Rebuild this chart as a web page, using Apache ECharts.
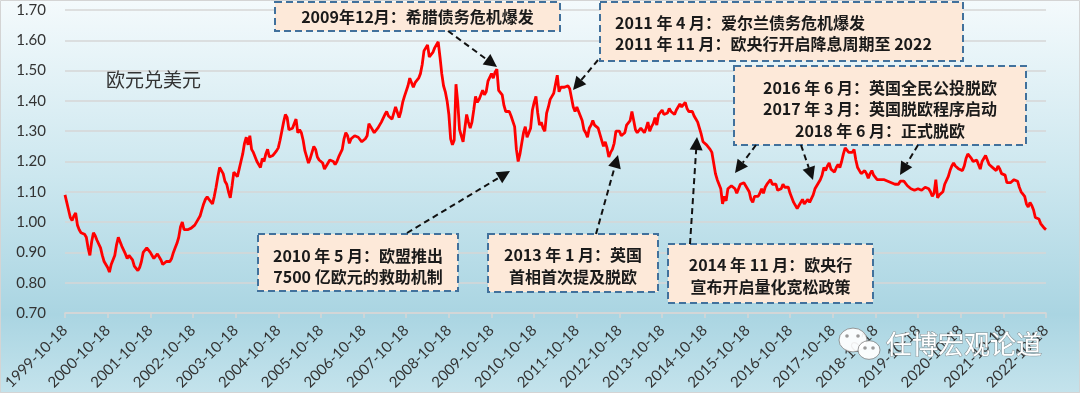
<!DOCTYPE html>
<html><head><meta charset="utf-8">
<script src="https://cdn.jsdelivr.net/npm/echarts@6/dist/echarts.min.js"></script>
<style>html,body{margin:0;padding:0;}#c{width:1080px;height:393px;}</style>
</head><body><div id="c"></div>
<script>
// EUR/USD, sampled on the 18th and 3rd of each month (1999-10-18 .. 2022-10-18)
const rate1999to2004 = [
1.090,1.065,1.040,1.015,1.005,1.020,1.030,0.990,0.975,0.965,0.970,0.960,0.950,0.915,0.890,0.935,0.965,0.955,0.940,0.935,0.915,0.890,0.870,0.875,
0.850,0.835,0.860,0.855,0.890,0.925,0.950,0.935,0.920,0.920,0.895,0.880,0.890,0.895,0.875,0.855,0.850,0.840,0.850,0.870,0.900,0.905,0.915,0.910,
0.900,0.890,0.880,0.885,0.895,0.890,0.875,0.860,0.865,0.870,0.875,0.870,0.880,0.900,0.915,0.930,0.950,0.985,1.000,0.975,0.980,0.975,0.970,0.980,
0.980,0.990,1.000,0.995,1.020,1.040,1.060,1.075,1.083,1.075,1.080,1.060,1.085,1.115,1.150,1.180,1.175,1.160,1.135,1.125,1.100,1.080,1.120,1.165,
1.165,1.150,1.175,1.200,1.225,1.260,1.280,1.255,1.285,1.240,1.230,1.235,1.200,1.195,1.180,1.210,1.200,1.225,1.240,1.215,1.210,1.220,1.215,1.235];
const rate2004to2009 = [
1.245,1.270,1.300,1.330,1.355,1.345,1.305,1.300,1.310,1.325,1.340,1.295,1.305,1.295,1.270,1.235,1.215,1.195,1.210,1.230,1.250,1.240,1.215,1.205,
1.200,1.195,1.175,1.180,1.195,1.205,1.210,1.200,1.190,1.200,1.215,1.220,1.240,1.275,1.295,1.285,1.260,1.275,1.270,1.285,1.285,1.280,1.275,1.265,
1.260,1.275,1.285,1.325,1.315,1.310,1.295,1.300,1.310,1.320,1.330,1.335,1.355,1.365,1.350,1.345,1.340,1.360,1.380,1.375,1.345,1.365,1.395,1.415,
1.420,1.450,1.475,1.470,1.445,1.460,1.465,1.475,1.490,1.520,1.565,1.560,1.585,1.545,1.550,1.560,1.575,1.580,1.595,1.545,1.490,1.450,1.430,1.400,
1.355,1.275,1.255,1.270,1.455,1.395,1.305,1.285,1.265,1.260,1.355,1.330,1.310,1.330,1.370,1.415,1.395,1.405,1.410,1.435,1.420,1.430,1.465,1.460];
const rate2009to2014 = [
1.490,1.475,1.495,1.505,1.435,1.435,1.420,1.385,1.365,1.360,1.365,1.350,1.345,1.315,1.240,1.200,1.225,1.260,1.295,1.315,1.280,1.285,1.310,1.370,
1.395,1.415,1.360,1.320,1.330,1.310,1.300,1.360,1.380,1.405,1.415,1.425,1.455,1.485,1.430,1.445,1.450,1.445,1.440,1.450,1.440,1.445,1.380,1.365,
1.380,1.375,1.350,1.335,1.305,1.295,1.280,1.310,1.320,1.335,1.320,1.315,1.310,1.310,1.270,1.250,1.265,1.245,1.215,1.230,1.240,1.260,1.300,1.295,
1.300,1.285,1.280,1.295,1.320,1.315,1.335,1.365,1.335,1.305,1.295,1.290,1.310,1.315,1.295,1.310,1.330,1.300,1.315,1.325,1.345,1.320,1.355,1.360,
1.370,1.355,1.350,1.360,1.375,1.365,1.360,1.355,1.370,1.380,1.390,1.380,1.385,1.395,1.375,1.365,1.360,1.365,1.350,1.340,1.330,1.310,1.290,1.265];
const rate2014to2019 = [
1.270,1.255,1.250,1.240,1.230,1.195,1.160,1.140,1.135,1.110,1.060,1.085,1.070,1.110,1.115,1.120,1.125,1.110,1.095,1.100,1.125,1.120,1.130,1.120,
1.125,1.100,1.075,1.065,1.085,1.080,1.085,1.095,1.110,1.095,1.115,1.125,1.130,1.140,1.125,1.120,1.125,1.105,1.100,1.110,1.125,1.115,1.115,1.115,
1.095,1.095,1.065,1.060,1.045,1.045,1.065,1.075,1.060,1.055,1.075,1.065,1.065,1.090,1.110,1.120,1.120,1.140,1.155,1.180,1.170,1.185,1.195,1.175,
1.175,1.165,1.180,1.190,1.180,1.200,1.225,1.245,1.240,1.230,1.235,1.230,1.240,1.205,1.180,1.170,1.160,1.165,1.170,1.160,1.145,1.160,1.170,1.155,
1.150,1.140,1.135,1.140,1.145,1.140,1.145,1.135,1.135,1.130,1.135,1.125,1.130,1.125,1.135,1.130,1.135,1.130,1.120,1.115,1.110,1.110,1.105,1.100];
const rate2019to2022 = [
1.110,1.115,1.105,1.110,1.115,1.115,1.110,1.100,1.085,1.095,1.140,1.080,1.090,1.095,1.100,1.125,1.130,1.150,1.170,1.185,1.195,1.185,1.180,1.175,
1.175,1.170,1.185,1.210,1.225,1.230,1.210,1.200,1.205,1.205,1.190,1.175,1.200,1.205,1.220,1.220,1.190,1.185,1.180,1.185,1.170,1.185,1.175,1.160,
1.160,1.155,1.130,1.130,1.130,1.135,1.140,1.135,1.135,1.115,1.100,1.100,1.085,1.060,1.050,1.065,1.055,1.040,1.015,1.020,1.010,0.995,1.000,0.980,0.975];

const eurusd = [].concat(rate1999to2004, rate2004to2009, rate2009to2014, rate2014to2019, rate2019to2022);

// categories: YYYY-MM-18 and YYYY-MM-03 alternating
function pad(n){return (n<10?'0':'')+n;}
const dates = [];
(function(){ let y=1999,m=10;
  while(true){ dates.push(y+'-'+pad(m)+'-18'); if(y===2022&&m===10)break;
    m++; if(m>12){m=1;y++;} dates.push(y+'-'+pad(m)+'-03'); } })();
const tickLabelSuffix = '-10-18';
const yTicks = {min:0.7, max:1.7, interval:0.1};
const chartTitle = '欧元兑美元';

const boxes = [
  {x:275,y:2,w:285,h:29, align:'center', lines:['2009年12月：希腊债务危机爆发'], ly:[17]},
  {x:600,y:2,w:363,h:59, align:'left', tx:615, lines:['2011 年 4 月：爱尔兰债务危机爆发','2011 年 11 月：欧央行开启降息周期至 2022'], ly:[23,44]},
  {x:734,y:66,w:292,h:79, align:'center', lines:['2016 年 6 月：英国全民公投脱欧','2017 年 3 月：英国脱欧程序启动','2018 年 6 月：正式脱欧'], ly:[88,109,131]},
  {x:258,y:234,w:200,h:57, align:'center', lines:['2010 年 5 月：欧盟推出','7500 亿欧元的救助机制'], ly:[256,277]},
  {x:488,y:234,w:170,h:58, align:'center', lines:['2013 年 1 月：英国','首相首次提及脱欧'], ly:[255,277]},
  {x:668,y:244,w:205,h:59, align:'center', lines:['2014 年 11 月：欧央行','宣布开启量化宽松政策'], ly:[265,287]}
];
const arrows = [
  [448,31,497,67],[598,60,573,90],[756,145,735,173],[801,145,813,180],[918,145,900,175],
  [407,233,510,171],[596,234,618,155],[690,244,697,137]
];

const cjk = '"Noto Sans CJK SC"';
const els = [];
els.push({type:'rect', shape:{x:0.5,y:0.5,width:1079,height:392}, style:{fill:'none',stroke:'#d4d4d4',lineWidth:1}, z:1, silent:true});
els.push({type:'text', style:{text:chartTitle, x:106, y:80, fill:'#333', fontSize:19, fontFamily:cjk, textAlign:'left', textVerticalAlign:'middle', align:'left', verticalAlign:'middle'}, z:50});
boxes.forEach(b=>{
  els.push({type:'rect', shape:{x:b.x,y:b.y,width:b.w,height:b.h}, style:{fill:'#fde9d9',stroke:'#41719c',lineWidth:2,lineDash:[7,4]}, z:50});
  b.lines.forEach((t,i)=>{
    const x = b.align==='left'? b.tx : b.x+b.w/2;
    els.push({type:'text', style:{text:t, x:x, y:b.ly[i], fill:'#1a1a1a', fontSize:16, fontWeight:'bold', fontFamily:cjk,
      textAlign:b.align, textVerticalAlign:'middle', align:b.align, verticalAlign:'middle'}, z:51});
  });
});
arrows.forEach(a=>{
  const [x1,y1,x2,y2]=a; const dx=x2-x1, dy=y2-y1, L=Math.sqrt(dx*dx+dy*dy); const ux=dx/L, uy=dy/L;
  const hl=13, hw=6.5; const bx=x2-ux*hl, by=y2-uy*hl;
  els.push({type:'line', shape:{x1:x1,y1:y1,x2:bx,y2:by}, style:{stroke:'#111',lineWidth:2,lineDash:[6,4]}, z:52});
  els.push({type:'polygon', shape:{points:[[x2,y2],[bx-uy*hw,by+ux*hw],[bx+uy*hw,by-ux*hw]]}, style:{fill:'#111'}, z:52});
});
// watermark
const wmFill='rgba(255,255,255,0.92)', wmStroke='rgba(120,120,120,0.8)';
els.push({type:'circle', shape:{cx:853,cy:340,r:14}, scaleY:0.85, originX:853, originY:340, style:{fill:wmFill,stroke:wmStroke,lineWidth:1}, z:60});
els.push({type:'circle', shape:{cx:869,cy:350,r:11}, scaleY:0.85, originX:869, originY:350, style:{fill:wmFill,stroke:wmStroke,lineWidth:1}, z:61});
[[847,336,62],[858,336,62],[865,348,63],[873,348,63]].forEach(p=>els.push({type:'circle',shape:{cx:p[0],cy:p[1],r:1.8},style:{fill:'#9a9a9a'},z:p[2]}));
els.push({type:'text', style:{text:'任博宏观论道', x:886, y:344, fill:'#ffffff', stroke:'rgba(110,110,110,0.7)', lineWidth:1, fontSize:26, fontFamily:cjk,
  textAlign:'left', textVerticalAlign:'middle', align:'left', verticalAlign:'middle'}, z:60});

const isYearTick = (i, v) => String(v).endsWith(tickLabelSuffix);
const chart = echarts.init(document.getElementById('c'));
chart.setOption({
  animation:false,
  backgroundColor:{type:'linear',x:0,y:0,x2:0,y2:1,colorStops:[
    {offset:0,color:'#f4fafc'},{offset:0.45,color:'#cce7ef'},{offset:0.8,color:'#aad5e2'},{offset:1,color:'#c4e3ec'}]},
  grid:{left:65,right:34,top:10,bottom:80},
  xAxis:{type:'category', data:dates, boundaryGap:false,
    axisLine:{show:true,lineStyle:{color:'#d6d6d6',width:1.5}},
    axisTick:{show:true,interval:isYearTick,length:5,lineStyle:{color:'#d6d6d6',width:1.5}},
    axisLabel:{interval:isYearTick, rotate:45, margin:15, color:'#333', fontSize:15, fontFamily:'Lato'},
    splitLine:{show:false}},
  yAxis:{type:'value', min:yTicks.min, max:yTicks.max, interval:yTicks.interval,
    axisLine:{show:false}, axisTick:{show:false},
    axisLabel:{formatter:v=>v.toFixed(2), color:'#333', fontSize:15, fontFamily:'Lato', margin:19},
    splitLine:{lineStyle:{color:'#d6d6d6',width:1.5}}},
  series:[{type:'line', data:eurusd, showSymbol:false, symbol:'none', lineStyle:{color:'#ff0000',width:2.8}, z:10}],
  graphic:{elements:els}
});
</script></body></html>
